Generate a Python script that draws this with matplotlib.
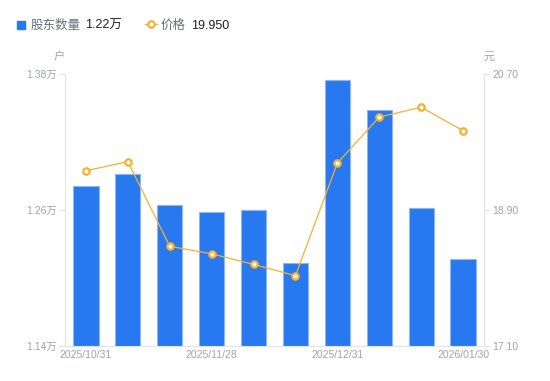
import numpy as np
import matplotlib.pyplot as plt

plt.rcParams['font.family'] = ['Liberation Sans', 'Noto Sans CJK SC', 'DejaVu Sans']

# 数据
dates = ['2025/10/31', '', '', '2025/11/28', '', '', '2025/12/31', '', '', '2026/01/30']
holders = [1.281, 1.292, 1.264, 1.258, 1.260, 1.213, 1.375, 1.348, 1.262, 1.2165]  # 万户
price = [19.42, 19.54, 18.42, 18.32, 18.18, 18.03, 19.52, 20.13, 20.26, 19.95]
left_ticks = [1.14, 1.26, 1.38]
right_ticks = [17.10, 18.90, 20.70]

blue = '#2878F0'
orange = '#F7B02E'
gray = '#A0A3AD'
axis_gray = '#E3E4E8'

fig = plt.figure(figsize=(5.5, 3.81), dpi=100)
ax = fig.add_axes([65 / 550, 35 / 381, 419 / 550, 272 / 381])
ax2 = ax.twinx()

x = np.arange(len(holders))
ax.bar(x, holders, width=0.6, color=blue, edgecolor='#8DB6F5', linewidth=0.8, zorder=2)
ax.set_xlim(-0.5, len(holders) - 0.5)
ax.set_ylim(left_ticks[0], left_ticks[-1])
ax.set_yticks(left_ticks)
ax.set_yticklabels([f'{v:.2f}万' for v in left_ticks])
ax.set_xticks(x)
ax.set_xticklabels(dates)

ax2.plot(x, price, color=orange, linewidth=0.9, marker='o', markersize=4.6,
         markerfacecolor='white', markeredgecolor=orange, markeredgewidth=1.6, zorder=3)
ax2.set_ylim(right_ticks[0], right_ticks[-1])
ax2.set_yticks(right_ticks)
ax2.set_yticklabels([f'{v:.2f}' for v in right_ticks])

for a in (ax, ax2):
    for s in a.spines.values():
        s.set_visible(False)
    a.tick_params(colors=axis_gray, labelcolor=gray, labelsize=7.5, length=4, width=0.8)

ax.spines['left'].set_visible(True)
ax.spines['left'].set_color(axis_gray)
ax.spines['bottom'].set_visible(True)
ax.spines['bottom'].set_color(axis_gray)
ax2.spines['right'].set_visible(True)
ax2.spines['right'].set_color(axis_gray)
ax.tick_params(axis='x', length=0, pad=3)
ax.tick_params(axis='y', pad=2)
ax2.tick_params(axis='y', pad=2)

# 单位
fig.text(59 / 550, 1 - 57 / 381, '户', color=gray, fontsize=8, ha='center', va='center')
fig.text(489 / 550, 1 - 57 / 381, '元', color=gray, fontsize=8, ha='center', va='center')

# 图例
ly = 1 - 24 / 381
fig.patches.append(plt.Rectangle((17 / 550, 1 - 28.5 / 381), 8 / 550, 8 / 381,
                                 transform=fig.transFigure, color=blue, figure=fig))
fig.text(31 / 550, ly - 2 / 381, '股东数量', color='#6B6E78', fontsize=9, va='center')
fig.text(85 / 550, ly - 2 / 381, '1.22万', color='#222222', fontsize=9, va='center')
fig.lines.append(plt.Line2D([145 / 550, 157 / 550], [ly, ly], transform=fig.transFigure,
                            color=orange, linewidth=1, figure=fig))
fig.lines.append(plt.Line2D([151 / 550], [ly], transform=fig.transFigure, color=orange,
                            marker='o', markersize=4.6, markerfacecolor='white',
                            markeredgewidth=1.6, figure=fig))
fig.text(161 / 550, ly - 2 / 381, '价格', color='#6B6E78', fontsize=9, va='center')
fig.text(191 / 550, ly - 2 / 381, '19.950', color='#222222', fontsize=9, va='center')

plt.savefig('out.png', dpi=100)
